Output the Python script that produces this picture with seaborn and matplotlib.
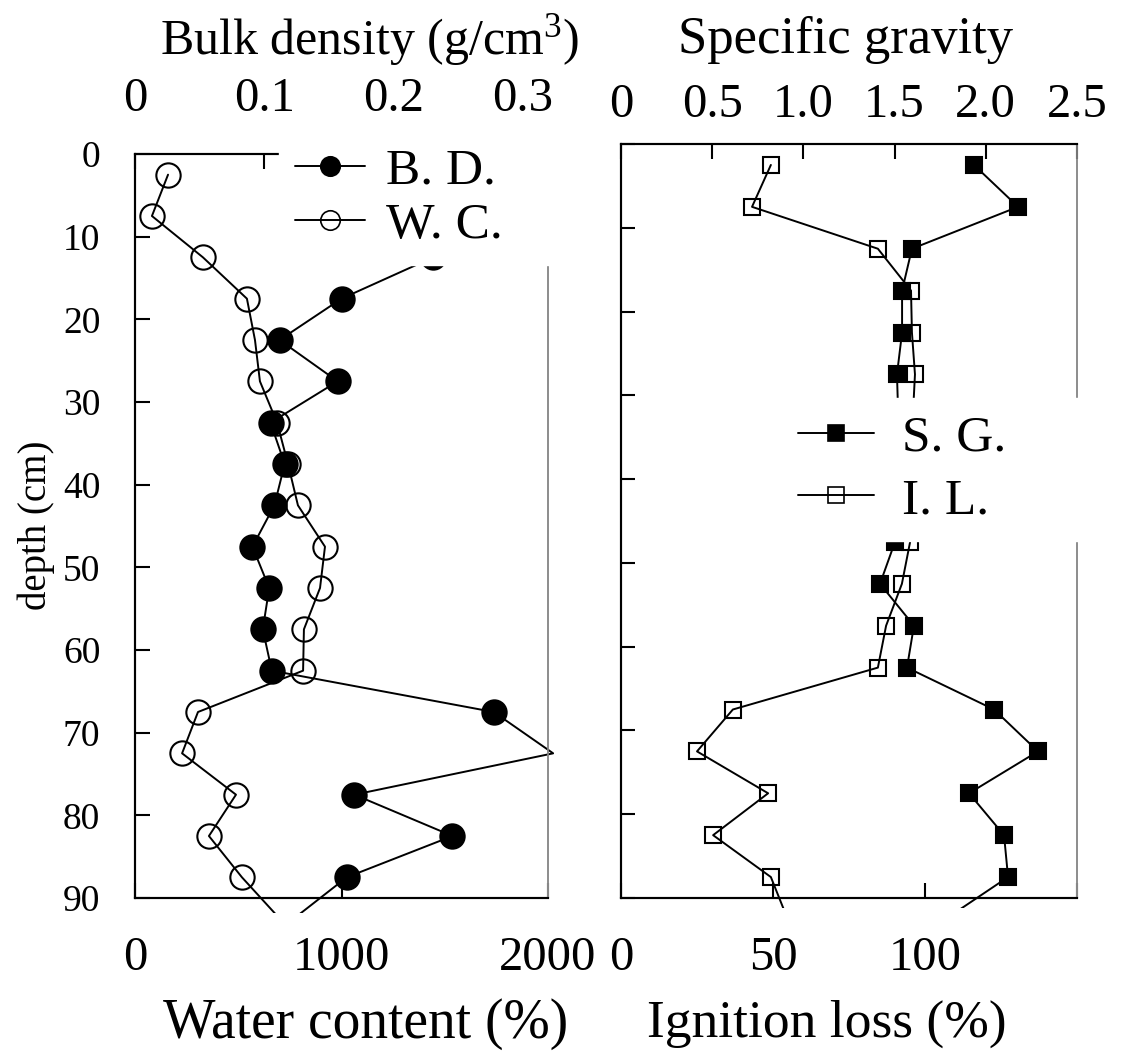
import numpy as np
import pandas as pd
import seaborn as sns
import matplotlib.pyplot as plt
from matplotlib.patches import Rectangle
from matplotlib.lines import Line2D

# ---------------- data ----------------
depth = [2.5, 7.5, 12.5, 17.5, 22.5, 27.5, 32.5, 37.5, 42.5, 47.5,
         52.5, 57.5, 62.5, 67.5, 72.5, 77.5, 82.5, 87.5, 92.5]

water_content = [160, 82, 329, 542, 581, 605, 688, 741, 789, 920,
                 896, 818, 814, 305, 228, 489, 358, 518, 701]

bd_depth = [12.5, 17.5, 22.5, 27.5, 32.5, 37.5, 42.5, 47.5, 52.5,
            57.5, 62.5, 67.5, 72.5, 77.5, 82.5, 87.5, 92.5]
bulk_density = [0.231, 0.160, 0.112, 0.157, 0.105, 0.116, 0.108, 0.091, 0.104,
                0.099, 0.106, 0.278, 0.324, 0.170, 0.246, 0.164, 0.123]

specific_gravity = [1.935, 2.177, 1.595, 1.541, 1.541, 1.513, 1.52, 1.53, 1.51, 1.502,
                    1.420, 1.606, 1.568, 2.045, 2.286, 1.908, 2.100, 2.122, 1.780]

ignition_loss = [49.3, 43.1, 84.5, 95.4, 95.7, 96.7, 96.0, 95.5, 95.5, 95.1,
                 92.4, 87.2, 84.5, 36.8, 25.0, 48.4, 30.3, 49.3, 54.8]

depth_ticks = [0, 10, 20, 30, 40, 50, 60, 70, 80, 90]
wc_ticks = [0, 1000, 2000]
wc_ticklabels = ['0', '1000', '2000']
bd_ticks = [0, 0.1, 0.2, 0.3]
bd_ticklabels = ['0', '0.1', '0.2', '0.3']
il_ticks = [0, 50, 100, 150]
il_ticklabels = ['0', '50', '100', '']
sg_ticks = [0, 0.5, 1.0, 1.5, 2.0, 2.5]
sg_ticklabels = ['0', '0.5', '1.0', '1.5', '2.0', '2.5']

# ---------------- style ----------------
sns.set_style("ticks")
plt.rcParams['font.family'] = ['Liberation Serif', 'DejaVu Serif']
plt.rcParams['mathtext.fontset'] = 'custom'
plt.rcParams['mathtext.rm'] = 'Liberation Serif'
plt.rcParams['mathtext.it'] = 'Liberation Serif:italic'
for key in ['text.color', 'axes.labelcolor', 'xtick.color', 'ytick.color', 'axes.edgecolor']:
    plt.rcParams[key] = 'black'

W, H = 1132, 1055
fig = plt.figure(figsize=(W / 100, H / 100), dpi=100)


def px_axes(x0, x1, ytop, ybot):
    return fig.add_axes([x0 / W, 1 - ybot / H, (x1 - x0) / W, (ybot - ytop) / H])


YLIM = (90, 0)


def in_range_mask(vals, deps, xlim):
    lo, hi = min(xlim), max(xlim)
    return [bool(lo <= v <= hi and 0 <= d <= 90) for v, d in zip(vals, deps)]


def draw_series(ax, xvals, deps, xlim, marker, ms, filled, clip):
    n_before = len(ax.lines)
    sns.lineplot(x=xvals, y=deps, sort=False, estimator=None, errorbar=None,
                 ax=ax, color='black', lw=1.4, marker=marker, ms=ms,
                 mfc='black' if filled else 'none', mec='black', mew=1.5,
                 markevery=in_range_mask(xvals, deps, xlim), legend=False)
    for ln in ax.lines[n_before:]:
        ln.set_clip_path(Rectangle(clip[:2], clip[2], clip[3], transform=ax.transAxes))


def style_spines(ax):
    for side in ['left', 'top', 'bottom']:
        ax.spines[side].set_color('black')
        ax.spines[side].set_linewidth(1.5)
    ax.spines['right'].set_color('#8c8c8c')
    ax.spines['right'].set_linewidth(1.2)
    ax.grid(False)


# ---------------- left panel ----------------
ax_wc = px_axes(135, 548, 154, 898)
ax_bd = ax_wc.twiny()
WC_LIM = (0, 2000)
BD_LIM = (0, 0.32)
clipL = (0, -0.02, 1.015, 1.02)

draw_series(ax_wc, water_content, depth, WC_LIM, 'o', 17.5, False, clipL)
draw_series(ax_bd, bulk_density, bd_depth, BD_LIM, 'o', 17.5, True, clipL)

ax_wc.set_xlim(*WC_LIM)
ax_bd.set_xlim(*BD_LIM)
ax_wc.set_ylim(*YLIM)

ax_wc.set_xticks(wc_ticks, wc_ticklabels)
ax_bd.set_xticks(bd_ticks, bd_ticklabels)
ax_wc.set_yticks(depth_ticks, [str(t) for t in depth_ticks])

ax_wc.tick_params(axis='x', direction='in', length=11, width=1.5, labelsize=35, pad=27,
                  top=False, bottom=True)
ax_wc.tick_params(axis='y', direction='in', length=11, width=1.5, labelsize=27, pad=25,
                  left=True, right=False)
ax_bd.tick_params(axis='x', direction='in', length=11, width=1.5, labelsize=35, pad=24,
                  top=True, bottom=False)
style_spines(ax_wc)
style_spines(ax_bd)

ax_wc.set_xlabel('Water content (%)', fontsize=40)
ax_wc.xaxis.label.set_va('center')
ax_wc.xaxis.set_label_coords((366 - 135) / 413, (898 - 1024) / 744)
ax_bd.set_xlabel('Bulk density (g/cm$^3$)', fontsize=36)
ax_bd.xaxis.label.set_va('center')
ax_bd.xaxis.set_label_coords((369 - 135) / 413, (898 - 40) / 744)
ax_wc.set_ylabel('depth (cm)', fontsize=28)
ax_wc.yaxis.label.set_va('center')
ax_wc.yaxis.label.set_ha('center')
ax_wc.yaxis.set_label_coords((36 - 135) / 413, 0.501)

h_bd = Line2D([], [], color='black', lw=1.4, marker='o', ms=14, mfc='black', mec='black', mew=1.2)
h_wc = Line2D([], [], color='black', lw=1.4, marker='o', ms=14, mfc='none', mec='black', mew=1.2)
ax_bd.legend([h_bd, h_wc], ['B. D.', 'W. C.'], loc='lower left',
             bbox_to_anchor=(0.349, 0.851, 0.68, 0.3), mode='expand', borderaxespad=0,
             fontsize=37, frameon=True, facecolor='white', edgecolor='white', framealpha=1,
             fancybox=False, handlelength=1.38, handletextpad=0.4, labelspacing=0.15,
             borderpad=0.3, labelcolor='black')

# ---------------- right panel ----------------
ax_il = px_axes(621, 1077, 144, 898)
ax_sg = ax_il.twiny()
IL_LIM = (0, 150)
SG_LIM = (0, 2.5)
clipR = (0, -0.013, 1.01, 1.013)

draw_series(ax_il, ignition_loss, depth, IL_LIM, 's', 11.5, False, clipR)
draw_series(ax_sg, specific_gravity, depth, SG_LIM, 's', 11.5, True, clipR)

ax_il.set_xlim(*IL_LIM)
ax_sg.set_xlim(*SG_LIM)
ax_il.set_ylim(*YLIM)

ax_il.set_xticks(il_ticks, il_ticklabels)
ax_sg.set_xticks(sg_ticks, sg_ticklabels)
ax_il.set_yticks(depth_ticks, [''] * len(depth_ticks))

ax_il.tick_params(axis='x', direction='in', length=11, width=1.5, labelsize=35, pad=27,
                  top=False, bottom=True)
ax_il.tick_params(axis='y', direction='in', length=10, width=1.5, left=True, right=False)
ax_sg.tick_params(axis='x', direction='in', length=11, width=1.5, labelsize=35, pad=12,
                  top=True, bottom=False)
style_spines(ax_il)
style_spines(ax_sg)

ax_il.set_xlabel('Ignition loss (%)', fontsize=38.5)
ax_il.xaxis.label.set_va('center')
ax_il.xaxis.set_label_coords((827 - 621) / 456, (898 - 1024) / 754)
ax_sg.set_xlabel('Specific gravity', fontsize=38)
ax_sg.xaxis.label.set_va('center')
ax_sg.xaxis.set_label_coords((846 - 621) / 456, (898 - 40) / 754)

h_sg = Line2D([], [], color='black', lw=1.4, marker='s', ms=11.5, mfc='black', mec='black', mew=1.2)
h_il = Line2D([], [], color='black', lw=1.4, marker='s', ms=11.5, mfc='none', mec='black', mew=1.2)
ax_sg.legend([h_sg, h_il], ['S. G.', 'I. L.'], loc='lower left',
             bbox_to_anchor=(0.351, 0.4735, 0.68, 0.3), mode='expand', borderaxespad=0,
             fontsize=37, frameon=True, facecolor='white', edgecolor='white', framealpha=1,
             fancybox=False, handlelength=1.47, handletextpad=0.55, labelspacing=0.3,
             borderpad=0.33, labelcolor='black')

fig.savefig('out.png', dpi=100)
